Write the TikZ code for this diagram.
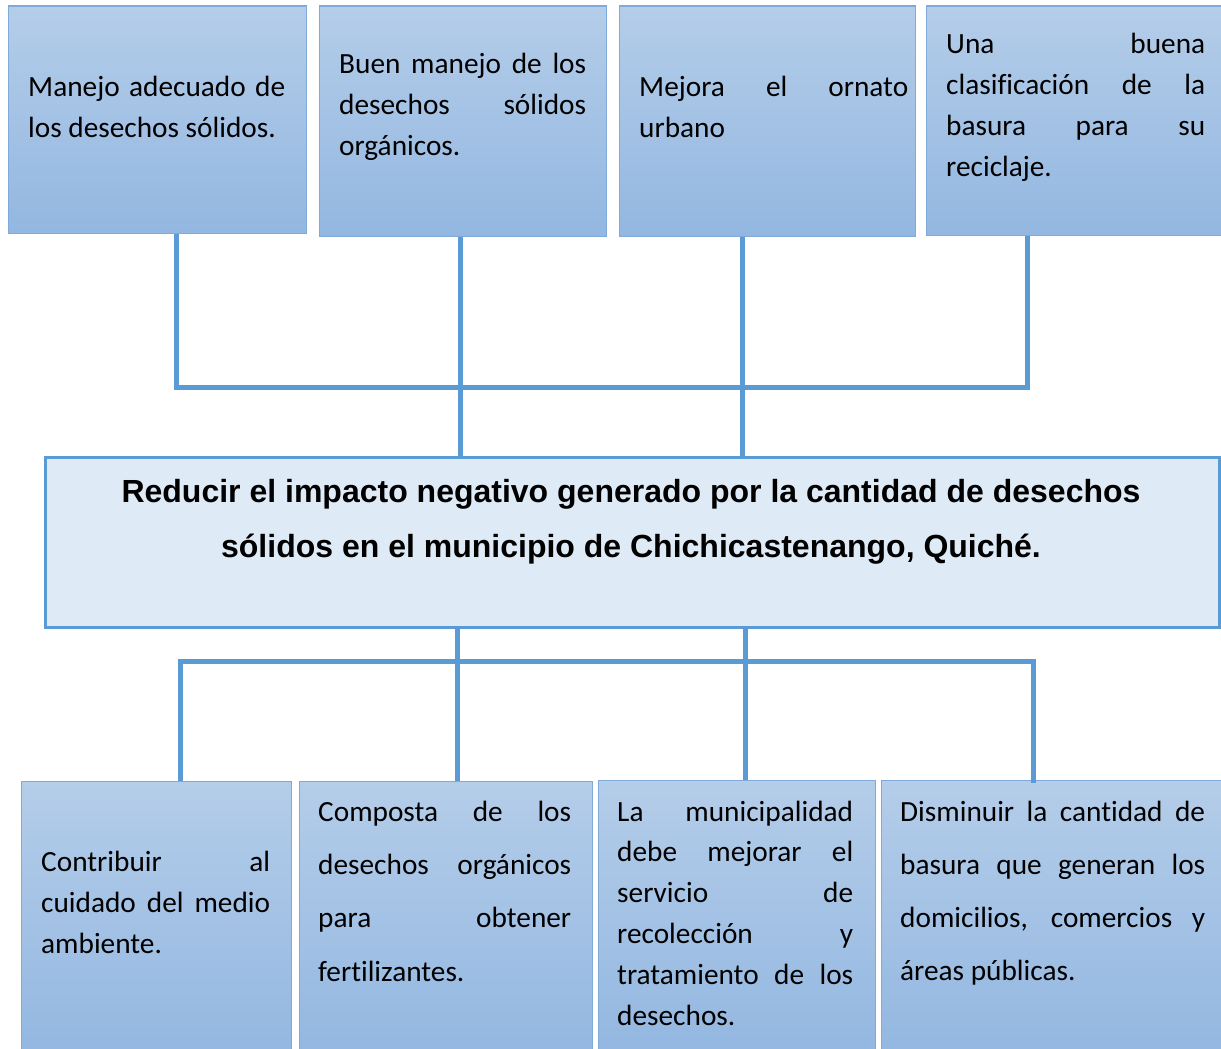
\documentclass[tikz,border=0pt]{standalone}
\usepackage{fontspec}
\setmainfont{Carlito}[Ligatures=NoCommon]
\newfontfamily\titlefont{Liberation Sans}
\definecolor{lineblue}{HTML}{5B9BD5}
\definecolor{boxtop}{HTML}{B4CDE9}
\definecolor{boxbot}{HTML}{93B7E1}
\definecolor{boxline}{HTML}{7FAADA}
\definecolor{mainfill}{HTML}{DEEAF6}
\newcommand\JL[1]{\hbox to\hsize{#1}}
\newcommand\LL[1]{\hbox{#1}}
\newcommand\boxtext[3]{\parbox[t]{#1}{\fontsize{29.3}{#2}\selectfont #3}}
\tikzset{
  tbox/.style={rectangle, top color=boxtop, bottom color=boxbot, draw=boxline, line width=1.5pt, inner sep=0pt, anchor=north west},
  mainbox/.style={rectangle, fill=mainfill, draw=lineblue, line width=3pt, inner sep=0pt, anchor=north west},
  txt/.style={inner sep=0pt, anchor=base west, text=black},
  conn/.style={draw=lineblue, line width=5pt, line join=miter}
}
\begin{document}
\begin{tikzpicture}[x=1pt,y=-1pt]
\useasboundingbox[fill=white] (0,0) rectangle (1221,1049);
% top boxes
\node[tbox, minimum width=298pt, minimum height=227pt] (b1) at (7.5,5.5) {};
\node[tbox, minimum width=287pt, minimum height=230pt] (b2) at (318.5,5.5) {};
\node[tbox, minimum width=296pt, minimum height=230pt] (b3) at (618.5,5.5) {};
\node[tbox, minimum width=298pt, minimum height=229pt] (b4) at (925.5,5.5) {};
% main box
\node[mainbox, minimum width=1174pt, minimum height=170pt] (m) at (44,456) {};
% bottom boxes
\node[tbox, minimum width=270pt, minimum height=275pt] (l1) at (20.5,780.5) {};
\node[tbox, minimum width=293pt, minimum height=275pt] (l2) at (298.5,780.5) {};
\node[tbox, minimum width=277pt, minimum height=276pt] (l3) at (597.5,779.5) {};
\node[tbox, minimum width=345pt, minimum height=276pt] (l4) at (880.5,779.5) {};
% texts
\node[txt] (t1) at (28,96) {\boxtext{257pt}{41pt}{\JL{Manejo adecuado de}\LL{los desechos sólidos.}}};
\node[txt] (t2) at (339,74) {\boxtext{247pt}{41pt}{\JL{Buen manejo de los}\JL{desechos sólidos}\LL{orgánicos.}}};
\node[txt] (t3) at (639,96) {\boxtext{269pt}{41pt}{\JL{Mejora el ornato}\LL{urbano}}};
\node[txt] (t4) at (946,54) {\boxtext{259pt}{41pt}{\JL{Una buena}\JL{clasificación de la}\JL{basura para su}\LL{reciclaje.}}};
\node[txt] (s1) at (41,871) {\boxtext{229pt}{41pt}{\JL{Contribuir al}\JL{cuidado del medio}\LL{ambiente.}}};
\node[txt] (s2) at (318,821) {\boxtext{253pt}{53.4pt}{\JL{Composta de los}\JL{desechos orgánicos}\JL{para obtener}\LL{fertilizantes.}}};
\node[txt] (s3) at (617,821) {\boxtext{236pt}{40.8pt}{\JL{La municipalidad}\JL{debe mejorar el}\JL{servicio de}\JL{recolección y}\JL{tratamiento de los}\LL{desechos.}}};
\node[txt] (s4) at (900,821) {\boxtext{305pt}{53.3pt}{\JL{Disminuir la cantidad de}\JL{basura que generan los}\JL{domicilios, comercios y}\LL{áreas públicas.}}};
\node[inner sep=0pt, anchor=base] (title) at (631,502) {\parbox[t]{1160pt}{\centering\titlefont\bfseries\fontsize{32}{55}\selectfont Reducir el impacto negativo generado por la cantidad de desechos\\ sólidos en el municipio de Chichicastenango, Quiché.}};
% connectors top
\coordinate (c1) at (176,387);
\coordinate (c4) at (1027,387);
\coordinate (x2) at (460,387);
\coordinate (x3) at (742,387);
\draw[conn] (b1.south -| c1) -- (c1) -- (c4) -- (b4.south -| c4);
\draw[conn] (b2.south -| x2) -- (m.north -| x2);
\draw[conn] (b3.south -| x3) -- (m.north -| x3);
% connectors bottom
\coordinate (d1) at (180,661);
\coordinate (d4) at (1033,661);
\coordinate (y2) at (457,661);
\coordinate (y3) at (745,661);
\coordinate (e4) at (1033,783);
\draw[conn] (l1.north -| d1) -- (d1) -- (d4) -- (e4);
\draw[conn] (m.south -| y2) -- (l2.north -| y2);
\draw[conn] (m.south -| y3) -- (l3.north -| y3);
\end{tikzpicture}
\end{document}
